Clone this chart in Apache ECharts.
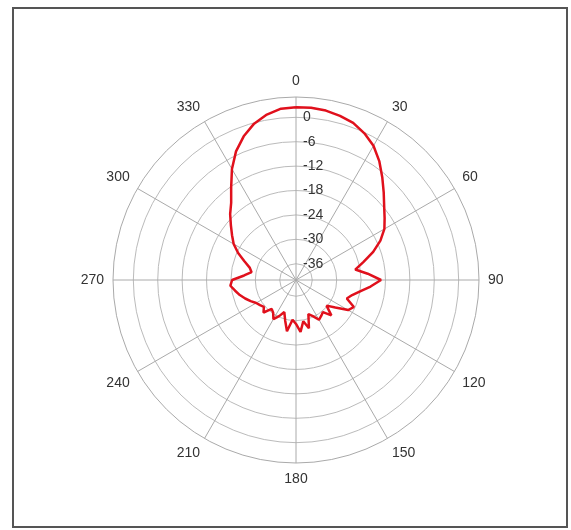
<!DOCTYPE html>
<html>
<head>
<meta charset="utf-8">
<script src="https://cdn.jsdelivr.net/npm/echarts@6/dist/echarts.min.js"></script>
<style>
  html, body { margin: 0; padding: 0; background: #fff; }
  #main { width: 571px; height: 530px; }
</style>
</head>
<body>
<div id="main"></div>
<script>
// 方向角（度），顺时针，0 在正上方
var angles = [0, 5, 10, 15, 20, 25, 30, 35, 40, 45, 50, 55, 60, 65, 70, 75, 80, 85,
  90, 95, 100, 105, 110, 115, 120, 125, 130, 135, 140, 145, 150, 155, 160, 165, 170, 175,
  180, 185, 190, 195, 200, 205, 210, 215, 220, 225, 230, 235, 240, 245, 250, 255, 260, 265,
  270, 275, 280, 285, 290, 295, 300, 305, 310, 315, 320, 325, 330, 335, 340, 345, 350, 355];
// 增益 dB
var gain = [2.5, 2.5, 2.3, 1.8, 1.1, -0.2, -1.9, -4.3, -7.0, -9.5, -11.7, -13.4, -14.9, -17.1, -19.8, -22.8, -25.2, -22.3,
  -19.1, -21.6, -24.0, -25.7, -26.7, -24.3, -25.2, -28.2, -30.2, -27.7, -29.7, -29.2, -28.7, -30.2, -31.1, -27.7, -29.7, -27.2,
  -29.2, -30.2, -27.2, -29.7, -31.6, -30.2, -28.9, -30.2, -30.7, -28.7, -29.7, -29.2, -28.7, -27.7, -26.7, -25.7, -24.8, -23.8,
  -24.3, -27.2, -28.9, -28.2, -26.5, -24.3, -22.3, -20.8, -19.1, -17.1, -15.2, -12.2, -8.5, -5.1, -2.4, -0.2, 1.3, 2.3];
// 径向刻度
var rTicks = [-36, -30, -24, -18, -12, -6, 0];

var chart = echarts.init(document.getElementById('main'));

var data = [];
for (var i = 0; i < angles.length; i++) {
  data.push([gain[i], angles[i]]);
}
data.push([gain[0], 360]); // 闭合

var option = {
  backgroundColor: '#fff',
  animation: false,
  graphic: [{
    type: 'rect',
    shape: { x: 13, y: 8, width: 554, height: 519 },
    style: { fill: 'none', stroke: '#555', lineWidth: 2 }
  }],
  polar: {
    center: [296, 280],
    radius: 183
  },
  angleAxis: {
    type: 'value',
    min: 0,
    max: 360,
    interval: 30,
    startAngle: 90,
    clockwise: true,
    axisLine: { lineStyle: { color: '#aaa', width: 1 } },
    axisTick: { show: false },
    axisLabel: {
      margin: 9,
      color: '#333',
      fontSize: 14,
      fontFamily: 'Liberation Sans',
      formatter: function (v) { return v === 360 ? '' : v; }
    },
    splitLine: { show: true, lineStyle: { color: '#aaa', width: 1 } }
  },
  radiusAxis: {
    type: 'value',
    min: -40,
    max: 5,
    axisLine: { show: false },
    axisTick: { show: false, customValues: rTicks },
    axisLabel: {
      customValues: rTicks,
      color: '#333',
      fontSize: 14,
      fontFamily: 'Liberation Sans',
      margin: -7,
      align: 'left',
      verticalAlign: 'middle'
    },
    splitLine: { show: true, lineStyle: { color: '#bbb', width: 1 } }
  },
  series: [{
    type: 'line',
    coordinateSystem: 'polar',
    data: data,
    showSymbol: false,
    clip: false,
    lineStyle: { color: '#e0101c', width: 2.5 }
  }]
};

chart.setOption(option);
</script>
</body>
</html>
